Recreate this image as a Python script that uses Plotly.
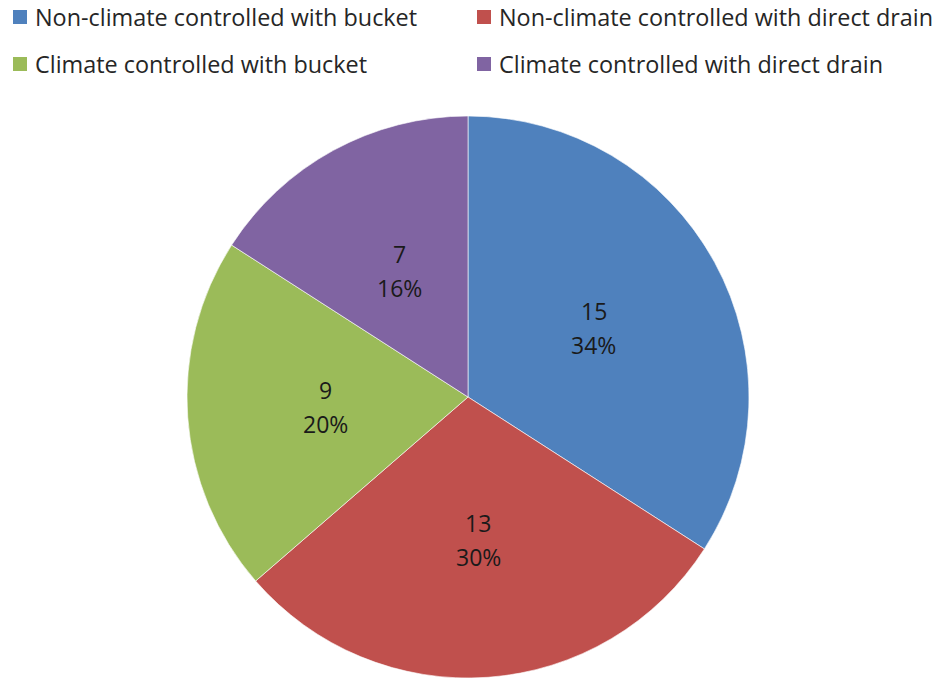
import math
import plotly.graph_objects as go

labels = ["Non-climate controlled with bucket", "Non-climate controlled with direct drain",
          "Climate controlled with bucket", "Climate controlled with direct drain"]
values = [15, 13, 9, 7]
colors = ["#4F81BD", "#C0504D", "#9BBB59", "#8064A2"]

W, H = 940, 679
cx, cy, R = 468, 397, 281
FONT = "Open Sans, DejaVu Sans, sans-serif"

fig = go.Figure(go.Pie(
    labels=labels, values=values, sort=False, direction="clockwise", rotation=0,
    marker=dict(colors=colors, line=dict(color="rgba(255,255,255,0.6)", width=1)),
    textinfo="none", showlegend=False, hoverinfo="label+value+percent",
    domain=dict(x=[(cx - R) / W, (cx + R) / W], y=[(H - cy - R) / H, (H - cy + R) / H]),
))

shapes, annotations = [], []

# data labels at about half radius along each slice's mid angle (Excel style)
total = sum(values)
cum = 0
for v in values:
    mid = (cum + v / 2) / total * 2 * math.pi
    cum += v
    px = cx + 0.51 * R * math.sin(mid)
    py = cy - 0.51 * R * math.cos(mid)
    for txt, off in ((str(v), -17), (f"{round(100 * v / total)}%", 17)):
        annotations.append(dict(text=txt, xref="paper", yref="paper", x=px / W, y=1 - (py + off) / H,
                                xanchor="center", yanchor="middle", showarrow=False,
                                font=dict(family=FONT, size=23, color="#1a1a1a")))

# legend drawn as swatches + text
leg_pos = [(13, 17), (477, 17), (13, 64), (477, 64)]
for (lx, ly), lab, col in zip(leg_pos, labels, colors):
    shapes.append(dict(type="rect", xref="paper", yref="paper",
                       x0=lx / W, x1=(lx + 14) / W, y0=1 - (ly + 7) / H, y1=1 - (ly - 7) / H,
                       fillcolor=col, line=dict(width=0)))
    annotations.append(dict(text=lab, xref="paper", yref="paper", x=(lx + 20) / W, y=1 - ly / H,
                            xanchor="left", yanchor="middle", showarrow=False,
                            font=dict(family=FONT, size=23.4, color="#262626")))

fig.update_layout(width=W, height=H, margin=dict(l=0, r=0, t=0, b=0),
                  paper_bgcolor="white", plot_bgcolor="white",
                  shapes=shapes, annotations=annotations)
fig.write_html("out.html")
